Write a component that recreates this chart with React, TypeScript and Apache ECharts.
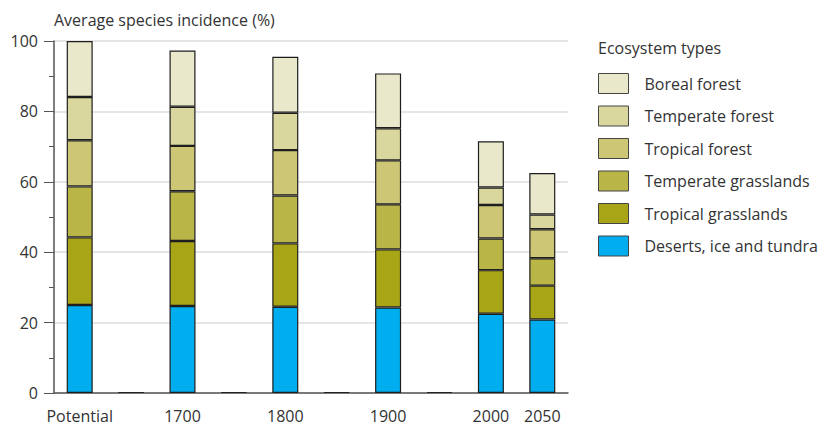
import React, { useEffect, useRef } from "react";
import * as echarts from "echarts";

const categories = ["Potential", "", "1700", "", "1800", "", "1900", "", "2000", "2050"];
const seriesNames = [
  "Deserts, ice and tundra",
  "Tropical grasslands",
  "Temperate grasslands",
  "Tropical forest",
  "Temperate forest",
  "Boreal forest",
];
const deserts = [25.0, null, 24.7, null, 24.5, null, 24.3, null, 22.5, 20.9];
const tropicalGrasslands = [19.2, null, 18.5, null, 18.0, null, 16.5, null, 12.4, 9.6];
const temperateGrasslands = [14.5, null, 14.1, null, 13.6, null, 12.8, null, 9.0, 7.8];
const tropicalForest = [13.1, null, 12.9, null, 12.9, null, 12.5, null, 9.5, 8.2];
const temperateForest = [12.3, null, 11.1, null, 10.6, null, 9.1, null, 5.0, 4.2];
const borealForest = [15.9, null, 16.0, null, 15.9, null, 15.6, null, 13.1, 11.8];
const gapMarks = [null, 0, null, 0, null, 0, null, 0, null, null];
const colors = ["#00ADEF", "#A8A516", "#B9B547", "#CCC675", "#D9D79D", "#E9E8CA"];
const yTicks = [0, 20, 40, 60, 80, 100];

const FONT = "'Open Sans', sans-serif";

export default function App() {
  const ref = useRef<HTMLDivElement>(null);
  useEffect(() => {
    document.body.style.margin = "0";
    if (!ref.current) return;
    const chart = echarts.init(ref.current, undefined, { renderer: "svg" });
    const values = [deserts, tropicalGrasslands, temperateGrasslands, tropicalForest, temperateForest, borealForest];
    const series: any[] = values.map((d, i) => ({
      name: seriesNames[i],
      type: "bar",
      stack: "total",
      barWidth: 26,
      data: d,
      itemStyle: { color: colors[i], borderColor: "#1E1E1E", borderWidth: 1.2 },
    }));
    series.push({
      name: "gap",
      type: "bar",
      stack: "total",
      barWidth: 26,
      data: gapMarks,
      barMinHeight: 1,
      itemStyle: { color: "#222", borderColor: "#222", borderWidth: 1 },
    });
    chart.setOption({
      animation: false,
      textStyle: { fontFamily: FONT },
      grid: { left: 54, right: 254, top: 41, bottom: 35 },
      legend: {
        data: seriesNames.slice().reverse(),
        orient: "vertical",
        left: 598,
        top: 73,
        padding: 0,
        icon: "rect",
        itemWidth: 30,
        itemHeight: 20,
        itemGap: 11.5,
        selectedMode: false,
        itemStyle: { borderColor: "#444", borderWidth: 1 },
        textStyle: { fontFamily: FONT, fontSize: 16, color: "#333", padding: [0, 0, 0, 11] },
      },
      graphic: [
        {
          type: "text",
          left: 598,
          top: 40,
          style: { text: "Ecosystem types", font: `16px ${FONT}`, fill: "#333" },
        },
      ],
      xAxis: {
        type: "category",
        data: categories,
        axisLine: { show: true, lineStyle: { color: "#555", width: 1.5 } },
        axisTick: { show: false },
        axisLabel: { interval: 0, fontSize: 16, color: "#333", margin: 15, fontFamily: FONT },
      },
      yAxis: {
        type: "value",
        min: yTicks[0],
        max: yTicks[yTicks.length - 1],
        interval: 20,
        name: "Average species incidence (%)",
        nameLocation: "end",
        nameGap: 21,
        nameTextStyle: { align: "left", verticalAlign: "middle", fontSize: 16, color: "#333", fontFamily: FONT },
        axisLine: { show: true, lineStyle: { color: "#555", width: 1.5 } },
        axisTick: { show: true, length: 10, lineStyle: { color: "#555" } },
        minorTick: { show: true, splitNumber: 2, length: 5, lineStyle: { color: "#555" } },
        axisLabel: { fontSize: 16, color: "#333", margin: 16, fontFamily: FONT },
        splitLine: { show: true, lineStyle: { color: "#DDDDDD", width: 1.5 } },
      },
      series,
    });
    return () => chart.dispose();
  }, []);
  return <div ref={ref} style={{ width: 822, height: 428 }} />;
}
